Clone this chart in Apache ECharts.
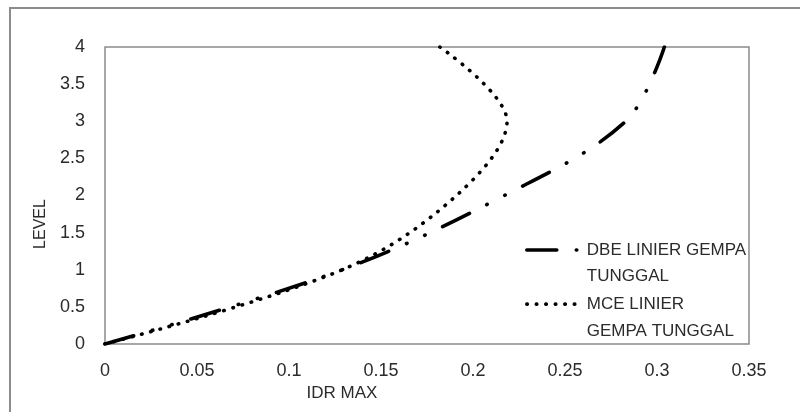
<!DOCTYPE html>
<html>
<head>
<meta charset="utf-8">
<script src="https://cdn.jsdelivr.net/npm/echarts@6/dist/echarts.min.js"></script>
<style>
html,body{margin:0;padding:0;background:#fff;}
#c{width:800px;height:412px;}
</style>
</head>
<body>
<div id="c"></div>
<script>
var levels = [0, 1, 2, 3, 4];
var dbeIdr = [0, 0.129, 0.217, 0.283, 0.304];
var mceIdr = [0, 0.129, 0.191, 0.2185, 0.182];
var seriesNames = ['DBE LINIER GEMPA\nTUNGGAL', 'MCE LINIER\nGEMPA TUNGGAL'];
var xTicks = ['0', '0.05', '0.1', '0.15', '0.2', '0.25', '0.3', '0.35'];
var yTicks = ['0', '0.5', '1', '1.5', '2', '2.5', '3', '3.5', '4'];
var xTitle = 'IDR MAX';
var yTitle = 'LEVEL';

function pairs(xs, ys) { return xs.map(function (x, i) { return [x, ys[i]]; }); }

var FONT = '"Liberation Sans", Arial, sans-serif';
var dbeLine = {color: '#000', width: 3.6, cap: 'round', type: [30, 19.5, 0.5, 19.5, 0.5, 19.5]};
var mceLine = {color: '#000', width: 3.6, cap: 'round', type: [0.5, 9]};
var chart = echarts.init(document.getElementById('c'), null, {renderer: 'canvas'});
chart.setOption({
  animation: false,
  backgroundColor: '#fff',
  graphic: [{
    type: 'rect', silent: true,
    shape: {x: 10, y: 8, width: 820, height: 430},
    style: {fill: 'none', stroke: '#8c8c8c', lineWidth: 2}
  }],
  grid: {left: 105, right: 51, top: 47, bottom: 68, show: true, borderColor: '#8a8a8a', borderWidth: 1.5, backgroundColor: 'transparent'},
  xAxis: {
    type: 'value', min: 0, max: 0.35, interval: 0.05,
    axisLine: {show: false}, axisTick: {show: false}, splitLine: {show: false},
    axisLabel: {margin: 18, color: '#2b2b2b', fontFamily: FONT, fontSize: 18,
      formatter: function (v) { return xTicks[Math.round(v / 0.05)]; }},
    name: xTitle, nameLocation: 'middle', nameGap: 40,
    nameTextStyle: {color: '#2b2b2b', fontFamily: FONT, fontSize: 17, padding: [0, 170, 0, 0]}
  },
  yAxis: {
    type: 'value', min: 0, max: 4, interval: 0.5,
    axisLine: {show: false}, axisTick: {show: false}, splitLine: {show: false},
    axisLabel: {margin: 20, color: '#2b2b2b', fontFamily: FONT, fontSize: 18,
      formatter: function (v) { return yTicks[Math.round(v / 0.5)]; }},
    name: yTitle, nameLocation: 'middle', nameGap: 56,
    nameTextStyle: {color: '#2b2b2b', fontFamily: FONT, fontSize: 16, padding: [0, 57, 0, 0]}
  },
  legend: {
    orient: 'vertical', left: 525, top: 210, padding: 0, itemGap: -26,
    itemWidth: 55, itemHeight: 8,
    itemStyle: {opacity: 0, borderWidth: 0},
    formatter: function (name) { return '\n' + name; },
    textStyle: {color: '#2b2b2b', fontFamily: FONT, fontSize: 17, lineHeight: 26.7},
    data: [
      {name: seriesNames[0], lineStyle: dbeLine},
      {name: seriesNames[1], lineStyle: mceLine}
    ]
  },
  series: [{
    name: seriesNames[0], type: 'line', data: pairs(dbeIdr, levels),
    smooth: 0.35, symbol: 'none', showSymbol: false, itemStyle: {color: '#000'},
    lineStyle: dbeLine
  }, {
    name: seriesNames[1], type: 'line', data: pairs(mceIdr, levels),
    smooth: 0.35, symbol: 'none', showSymbol: false, itemStyle: {color: '#000'},
    lineStyle: mceLine
  }]
});
</script>
</body>
</html>
